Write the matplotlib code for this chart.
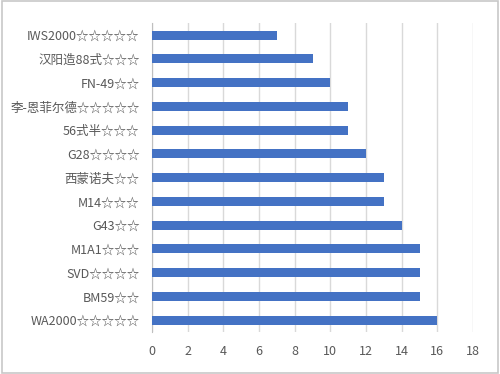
import matplotlib
matplotlib.use("Agg")
from matplotlib import pyplot as plt
from matplotlib.patches import Rectangle

plt.rcParams['font.family'] = ['Noto Sans CJK SC', 'DejaVu Sans']

# Data (top to bottom as shown)
names = ["IWS2000☆☆☆☆☆", "汉阳造88式☆☆☆", "FN-49☆☆", "李-恩菲尔德☆☆☆☆☆",
         "56式半☆☆☆", "G28☆☆☆☆", "西蒙诺夫☆☆", "M14☆☆☆", "G43☆☆",
         "M1A1☆☆☆", "SVD☆☆☆☆", "BM59☆☆", "WA2000☆☆☆☆☆"]
values = [7, 9, 10, 11, 11, 12, 13, 13, 14, 15, 15, 15, 16]
xticks = list(range(0, 19, 2))

fig = plt.figure(figsize=(5, 3.74), dpi=100)
ax = fig.add_axes([0.304, 0.112, 0.642, 0.826])

ypos = list(range(len(names)))[::-1]
ax.barh(ypos, values, height=0.38, color="#4472C4", zorder=3)

ax.set_xlim(0, 18)
ax.set_ylim(-0.5, len(names) - 0.5)
ax.set_xticks(xticks)
ax.set_yticks(ypos)
ax.set_yticklabels(names)
ax.tick_params(axis="y", length=0, pad=9, labelsize=9, labelcolor="#595959")
ax.tick_params(axis="x", length=0, pad=9, labelsize=9, labelcolor="#595959")

ax.grid(axis="x", color="#D9D9D9", linewidth=1, zorder=0)
for s in ["top", "right", "bottom"]:
    ax.spines[s].set_visible(False)
ax.spines["left"].set_color("#BFBFBF")

# light frame around the picture
fig.patches.append(Rectangle((0.004, 0.003), 0.992, 0.994, transform=fig.transFigure,
                             fill=False, edgecolor="#C8C8C8", linewidth=1.2))

plt.savefig("out.png", dpi=100)
